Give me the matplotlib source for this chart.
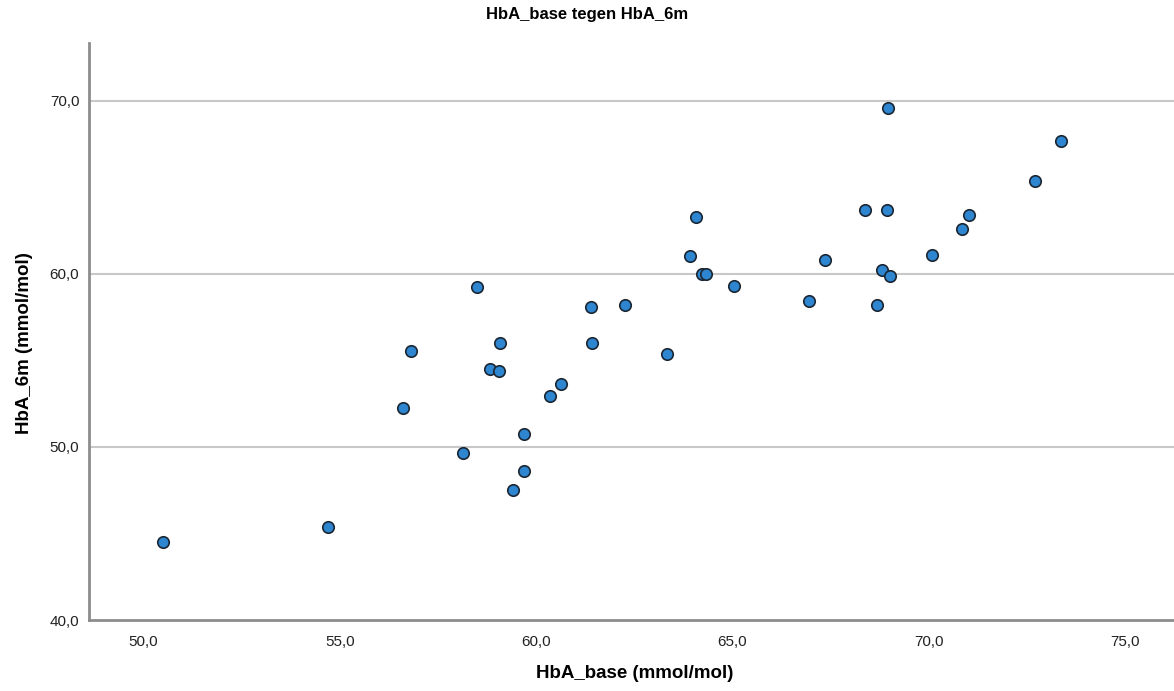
import matplotlib
matplotlib.use('Agg')
import matplotlib.pyplot as plt
from matplotlib.ticker import FuncFormatter

# HbA values (mmol/mol)
hba_base = [50.49, 54.71, 56.62, 56.81, 58.15, 58.49, 58.83, 59.06, 59.08, 59.41,
            59.70, 59.70, 60.35, 60.63, 61.41, 61.42, 62.26, 63.33, 63.93, 64.07,
            64.22, 64.32, 65.05, 66.96, 67.35, 68.37, 68.69, 68.80, 68.93, 68.97,
            69.02, 70.09, 70.84, 71.02, 72.72, 73.37]
hba_6m = [44.52, 45.36, 52.23, 55.54, 49.66, 59.24, 54.50, 54.38, 56.00, 47.51,
          50.73, 48.63, 52.92, 53.62, 58.10, 56.00, 58.18, 55.38, 61.03, 63.30,
          60.01, 59.99, 59.30, 58.45, 60.80, 63.67, 58.18, 60.20, 63.67, 69.58,
          59.86, 61.10, 62.57, 63.40, 65.36, 67.67]

xticks = [50, 55, 60, 65, 70, 75]
yticks = [40, 50, 60, 70]

plt.rcParams['font.family'] = ['Liberation Sans', 'DejaVu Sans']

fig = plt.figure(figsize=(11.74, 6.91), dpi=100)
ax = fig.add_axes([89/1174, 71/691, 1 - 89/1174, 577/691])

ax.scatter(hba_base, hba_6m, s=68, c='#2d86cf', edgecolors='#1b2633',
           linewidths=1.2, zorder=3)

ax.set_xlim(48.61, 76.25)
ax.set_ylim(40, 73.33)
ax.set_xticks(xticks)
ax.set_yticks(yticks)
comma = FuncFormatter(lambda v, p: ('%.1f' % v).replace('.', ','))
ax.xaxis.set_major_formatter(comma)
ax.yaxis.set_major_formatter(comma)
ax.tick_params(length=0, labelsize=11, colors='#222222')
ax.tick_params(axis='x', pad=11)
ax.tick_params(axis='y', pad=7)

for g in [50, 60, 70]:
    ax.axhline(g, color='#c8c8c8', lw=1.5, zorder=1)

for side in ['top', 'right']:
    ax.spines[side].set_visible(False)
for side in ['left', 'bottom']:
    ax.spines[side].set_color('#8c8c8c')
    ax.spines[side].set_linewidth(2)

ax.set_xlabel('HbA_base (mmol/mol)', fontsize=13.5, fontweight='bold')
ax.xaxis.set_label_coords(0.503, -0.078)
ax.set_ylabel('HbA_6m (mmol/mol)', fontsize=13.5, fontweight='bold')
ax.yaxis.set_label_coords(-0.052, 0.48)

fig.text(0.5, 1 - 14/691, 'HbA_base tegen HbA_6m', ha='center', va='center',
         fontsize=12, fontweight='bold')

fig.savefig('out.png', dpi=100)
